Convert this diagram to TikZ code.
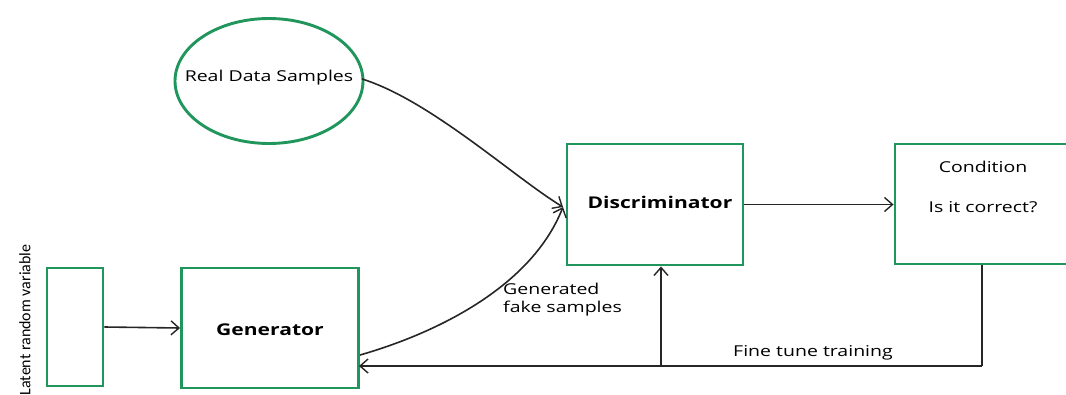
\documentclass[tikz,border=0pt]{standalone}
\usepackage{fontspec}
\setmainfont{Open Sans}[FakeStretch=1.3]
\newfontfamily\latentfont{Carlito}
\usetikzlibrary{arrows.meta,calc,shapes.geometric}
\definecolor{boxgreen}{RGB}{32,150,92}
\tikzset{
  gbox/.style={draw=boxgreen,line width=2.9pt,rectangle,inner sep=0pt},
  conn/.style={draw=black!85,line width=1.6pt,-{Straight Barb[length=8pt,width=14pt,line width=1.4pt]}},
  plainline/.style={draw=black!85,line width=1.6pt},
  lbl/.style={font=\fontsize{15}{18}\selectfont,inner sep=0pt},
  blbl/.style={font=\fontsize{16.2}{19}\selectfont\bfseries,inner sep=0pt},
}
\begin{document}
\begin{tikzpicture}[x=1pt,y=-1pt]
\useasboundingbox (0,0) rectangle (1066,394);
\clip (0,0) rectangle (1066,394);
% nodes
\node[gbox,minimum width=56pt,minimum height=118pt] (lat) at (75,327) {};
\node[rotate=90,font=\latentfont\fontsize{16}{18}\selectfont,inner sep=0pt] (lattxt) at (25,320) {Latent random variable};
\node[gbox,minimum width=177pt,minimum height=120pt] (gen) at (270,328) {};
\node[blbl] (gentxt) at (270,330) {Generator};
\node[draw=boxgreen,line width=2.9pt,ellipse,minimum width=188pt,minimum height=125pt,inner sep=0pt] (rd) at (269,81) {};
\node[lbl] (rdtxt) at (269,78) {Real Data Samples};
\node[gbox,minimum width=176pt,minimum height=121pt] (disc) at (655,204.5) {};
\node[blbl] (disctxt) at (660,202) {Discriminator};
\node[gbox,minimum width=180pt,minimum height=120pt] (cond) at (985,204) {};
\node[lbl] (condtxt) at (983,167) {Condition};
\node[lbl] (corrtxt) at (983,207) {Is it correct?};
\node[lbl,align=left,anchor=north west] (fake) at (503,283) {Generated\\fake samples};
\node[lbl] (fine) at (813,353) {Fine tune training};
% coordinates
\coordinate (rdout) at (362,79);
\coordinate (discin) at (563,207);
\coordinate (genout) at (360,355);
\coordinate (fbcorner) at (982,366);
\coordinate (junc) at (661,366);
\coordinate (genin) at (359,366);
% connectors
\draw[conn] (lat.east) -- (gen.west);
\draw[conn] (rdout) .. controls (430,100) and (515,178) .. (discin);
\draw[conn] (genout) .. controls (430,335) and (530,290) .. (discin);
\draw[conn] (disc.east) -- (cond.west |- disc.east);
\draw[plainline] (fbcorner |- cond.south) -- (fbcorner);
\draw[conn] (fbcorner) -- (genin);
\draw[conn] (junc) -- (junc |- disc.south);
\end{tikzpicture}
\end{document}
